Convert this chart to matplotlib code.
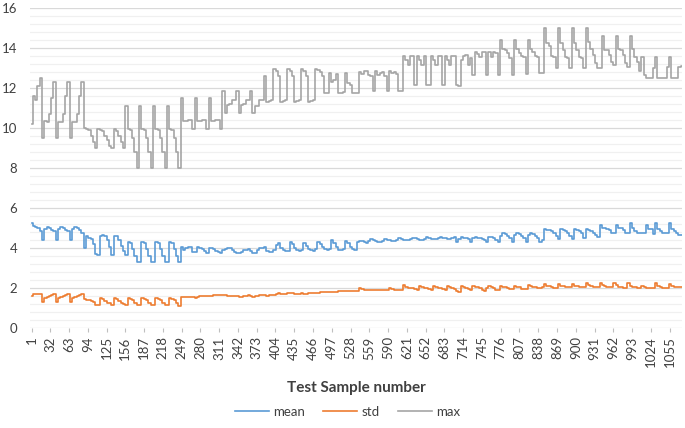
import numpy as np
import matplotlib
matplotlib.use("Agg")
import matplotlib.pyplot as plt
from matplotlib.ticker import MultipleLocator

plt.rcParams['font.family'] = ['Lato', 'DejaVu Sans']

n_samples = 1075
tick_labels = [1, 32, 63, 94, 125, 156, 187, 218, 249, 280, 311, 342, 373, 404, 435, 466, 497,
               528, 559, 590, 621, 652, 683, 714, 745, 776, 807, 838, 869, 900, 931, 962, 993,
               1024, 1055]

# readings taken at evenly spaced test samples across 1..1075
mean_vals = [
    5.23, 5.12, 5.05, 4.98, 4.85, 4.4,
    4.95, 5.03, 5.0, 4.92, 4.85, 4.4,
    4.95, 5.03, 5.0, 4.92, 4.85, 4.4,
    4.95, 5.03, 5.0, 4.9, 4.75, 4.0,
    4.6, 4.5, 4.45, 4.2, 3.7, 3.65,
    4.6, 4.65, 4.6, 4.4, 4.05, 3.65,
    4.6, 4.6, 4.4, 4.1, 3.85, 3.65,
    4.32, 4.25, 3.95, 3.6, 3.32, 3.32,
    4.32, 4.25, 3.95, 3.6, 3.32, 3.32,
    4.32, 4.25, 3.95, 3.6, 3.32, 3.32,
    4.32, 4.25, 3.95, 3.6, 3.32, 4.07,
    3.9, 4.0, 4.07, 4.05, 3.82, 3.82,
    4.07, 4.0, 3.95, 3.85, 3.75, 4.02,
    4.0, 3.95, 3.85, 3.8, 3.75, 3.9,
    3.95, 3.98, 3.98, 3.9, 3.82, 3.75,
    3.73, 3.8, 3.9, 3.9, 3.95, 3.85,
    3.73, 3.73, 3.9, 3.98, 4.0, 4.07,
    3.85, 3.82, 3.82, 3.88, 4.15, 4.23,
    4.0, 3.9, 3.85, 3.85, 4.32, 4.2,
    4.0, 3.9, 3.85, 3.9, 4.23, 4.1,
    3.95, 3.88, 3.87, 3.95, 4.3, 4.2,
    4.05, 3.95, 3.9, 3.95, 4.4, 4.25,
    4.05, 3.92, 3.9, 3.95, 4.37, 4.25,
    4.05, 3.95, 3.92, 4.3, 4.35, 4.35,
    4.3, 4.27, 4.35, 4.43, 4.42, 4.35,
    4.32, 4.3, 4.35, 4.45, 4.42, 4.38,
    4.35, 4.35, 4.4, 4.5, 4.45, 4.42,
    4.4, 4.4, 4.45, 4.52, 4.48, 4.45,
    4.42, 4.42, 4.45, 4.55, 4.5, 4.47,
    4.45, 4.45, 4.5, 4.57, 4.52, 4.5,
    4.47, 4.47, 4.52, 4.57, 4.32, 4.45,
    4.53, 4.5, 4.48, 4.45, 4.3, 4.5,
    4.53, 4.5, 4.48, 4.45, 4.4, 4.28,
    4.57, 4.55, 4.5, 4.4, 4.28, 4.6,
    4.73, 4.7, 4.6, 4.5, 4.32, 4.65,
    4.73, 4.7, 4.6, 4.5, 4.32, 4.65,
    4.73, 4.7, 4.6, 4.5, 4.32, 4.4,
    4.93, 4.9, 4.88, 4.85, 4.73, 4.6,
    4.45, 4.93, 4.9, 4.85, 4.75, 4.6,
    4.45, 4.93, 4.9, 4.85, 4.75, 4.5,
    4.93, 4.9, 4.85, 4.75, 4.65, 4.57,
    5.15, 5.0, 4.98, 4.95, 4.9, 4.73,
    4.73, 5.15, 5.0, 4.98, 4.9, 4.75,
    4.73, 5.23, 5.0, 4.85, 4.75, 4.73,
    4.73, 4.73, 5.15, 4.95, 4.95, 4.7,
    5.23, 4.95, 4.85, 4.73, 4.73, 4.73,
    5.23, 4.95, 4.85, 4.75, 4.65, 4.65,
]

std_vals = [
    1.6, 1.68, 1.7, 1.7, 1.7, 1.32,
    1.48, 1.57, 1.6, 1.65, 1.68, 1.32,
    1.48, 1.57, 1.6, 1.65, 1.68, 1.32,
    1.48, 1.57, 1.62, 1.65, 1.68, 1.45,
    1.4, 1.38, 1.35, 1.3, 1.15, 1.15,
    1.48, 1.45, 1.35, 1.25, 1.23, 1.15,
    1.48, 1.45, 1.35, 1.25, 1.2, 1.15,
    1.48, 1.45, 1.38, 1.27, 1.15, 1.15,
    1.48, 1.45, 1.38, 1.27, 1.15, 1.15,
    1.48, 1.45, 1.38, 1.27, 1.15, 1.15,
    1.48, 1.45, 1.38, 1.27, 1.1, 1.57,
    1.55, 1.57, 1.57, 1.57, 1.55, 1.52,
    1.57, 1.6, 1.6, 1.6, 1.58, 1.6,
    1.62, 1.63, 1.65, 1.65, 1.63, 1.65,
    1.63, 1.62, 1.6, 1.6, 1.62, 1.6,
    1.57, 1.57, 1.6, 1.62, 1.65, 1.6,
    1.53, 1.6, 1.62, 1.65, 1.65, 1.65,
    1.6, 1.65, 1.67, 1.67, 1.7, 1.73,
    1.72, 1.68, 1.72, 1.73, 1.75, 1.73,
    1.72, 1.7, 1.72, 1.73, 1.68, 1.72,
    1.77, 1.77, 1.77, 1.75, 1.77, 1.78,
    1.8, 1.8, 1.82, 1.82, 1.82, 1.8,
    1.82, 1.85, 1.87, 1.87, 1.87, 1.85,
    1.87, 1.87, 1.87, 1.85, 1.98, 1.95,
    1.92, 1.9, 1.9, 1.9, 1.88, 1.9,
    1.9, 1.9, 1.9, 1.88, 1.9, 1.98,
    1.95, 1.92, 1.9, 1.9, 1.9, 2.15,
    2.05, 2.02, 2.0, 2.0, 1.95, 1.9,
    2.1, 2.03, 2.0, 2.0, 1.95, 1.9,
    2.1, 2.03, 2.0, 2.0, 1.95, 1.9,
    2.1, 2.03, 2.0, 1.97, 1.85, 1.82,
    2.1, 2.05, 2.0, 1.95, 1.9, 2.1,
    2.07, 2.03, 2.0, 1.9, 1.87, 2.0,
    2.1, 2.05, 2.0, 1.92, 1.9, 2.1,
    2.07, 2.03, 2.0, 1.95, 1.93, 2.1,
    2.07, 2.03, 1.97, 1.93, 1.93, 2.15,
    2.1, 2.07, 2.03, 2.0, 2.0, 2.05,
    2.18, 2.12, 2.08, 2.03, 2.02, 2.02,
    2.2, 2.12, 2.08, 2.03, 2.03, 2.05,
    2.2, 2.12, 2.08, 2.05, 2.03, 2.03,
    2.23, 2.15, 2.1, 2.05, 2.03, 2.03,
    2.23, 2.15, 2.1, 2.05, 2.03, 2.03,
    2.23, 2.15, 2.07, 2.03, 2.0, 2.0,
    2.23, 2.12, 2.07, 2.03, 2.0, 2.0,
    2.1, 2.03, 2.0, 2.0, 2.0, 2.0,
    2.23, 2.12, 2.07, 2.0, 2.0, 2.0,
    2.2, 2.1, 2.07, 2.03, 2.03, 2.03,
]

max_vals = [
    10.2, 11.6, 11.4, 12.1, 12.5, 9.5,
    10.35, 10.3, 10.7, 11.5, 12.3, 9.5,
    10.3, 10.3, 10.7, 11.6, 12.3, 9.5,
    10.3, 10.3, 10.7, 11.6, 12.3, 10.0,
    9.95, 9.9, 9.6, 9.3, 9.0, 9.95,
    9.9, 9.85, 9.6, 9.4, 9.1, 9.0,
    9.95, 9.85, 9.6, 9.3, 9.0, 11.1,
    9.95, 9.9, 9.5, 8.8, 8.0, 11.1,
    9.95, 9.9, 9.5, 8.8, 8.0, 11.1,
    9.95, 9.9, 9.5, 8.8, 8.0, 11.1,
    9.95, 9.9, 9.5, 8.8, 8.0, 11.5,
    10.35, 10.35, 10.4, 10.4, 9.95, 11.5,
    10.35, 10.35, 10.4, 10.4, 9.95, 11.5,
    10.35, 10.35, 10.4, 10.4, 9.95, 11.85,
    10.75, 11.15, 11.2, 11.4, 11.4, 11.85,
    10.75, 11.15, 11.2, 11.4, 11.4, 11.85,
    10.75, 11.1, 11.1, 11.4, 11.4, 12.6,
    11.3, 11.35, 11.4, 12.95, 12.85, 12.6,
    11.3, 11.35, 11.4, 12.95, 12.85, 12.6,
    11.3, 11.35, 11.4, 12.95, 12.85, 12.6,
    11.3, 11.35, 11.4, 12.95, 12.9, 12.8,
    12.6, 11.75, 11.75, 12.75, 12.3, 12.4,
    12.7, 11.75, 11.75, 11.8, 12.75, 12.25,
    12.15, 11.75, 11.75, 11.75, 12.8, 12.7,
    12.85, 12.85, 12.65, 12.6, 11.85, 12.85,
    12.65, 12.75, 12.8, 12.6, 11.85, 12.85,
    12.75, 12.8, 12.7, 11.85, 11.85, 13.6,
    13.4, 13.15, 13.6, 13.6, 12.15, 13.6,
    13.4, 13.15, 13.6, 12.15, 12.15, 13.6,
    13.4, 13.15, 13.6, 13.6, 12.15, 13.6,
    13.4, 13.15, 13.6, 13.6, 12.15, 12.1,
    13.4, 13.6, 13.65, 13.15, 13.5, 12.65,
    13.8, 13.7, 13.55, 13.8, 13.8, 12.65,
    13.8, 13.55, 13.8, 13.75, 12.65, 14.4,
    13.95, 13.9, 13.75, 13.5, 12.65, 14.4,
    13.95, 13.75, 13.6, 13.55, 12.7, 14.4,
    13.95, 13.8, 13.6, 13.55, 12.75, 12.75,
    15.0, 14.25, 14.1, 13.6, 13.55, 13.0,
    15.0, 14.25, 13.9, 13.55, 13.5, 13.0,
    15.0, 14.25, 13.9, 13.55, 13.5, 13.0,
    15.0, 14.3, 13.95, 13.65, 13.25, 13.0,
    13.0, 14.6, 13.9, 13.9, 13.65, 13.3,
    13.15, 14.6, 13.95, 13.9, 13.65, 13.25,
    13.07, 14.6, 13.95, 13.55, 13.3, 12.85,
    13.57, 12.65, 12.48, 12.48, 12.48, 13.0,
    13.57, 12.48, 12.48, 12.48, 12.5, 13.05,
    13.57, 12.48, 12.48, 12.5, 13.07, 13.1,
]

series = [("mean", mean_vals, "#5B9BD5"),
          ("std", std_vals, "#ED7D31"),
          ("max", max_vals, "#A5A5A5")]

fig = plt.figure(figsize=(6.85, 4.28), dpi=100)
ax = fig.add_axes([30 / 685, 100 / 428, 652 / 685, 320 / 428])

for name, vals, color in series:
    x = np.linspace(1, n_samples, len(vals))
    ax.plot(x, vals, color=color, lw=1.2, drawstyle="steps-mid", label=name)

ax.set_xlim(-1.5, n_samples + 0.5)
ax.set_ylim(0, 16)
ax.yaxis.set_major_locator(MultipleLocator(2))
ax.yaxis.set_minor_locator(MultipleLocator(0.4))
ax.grid(True, which="major", axis="y", color="#D9D9D9", lw=0.9)
ax.grid(True, which="minor", axis="y", color="#F0F0F0", lw=0.9)
ax.set_axisbelow(True)
for s in ax.spines.values():
    s.set_visible(False)

ax.set_xticks(tick_labels)
ax.set_xticklabels([str(t) for t in tick_labels], rotation=90, fontsize=9.5, color="#404040")
ax.tick_params(axis="x", length=3, color="#BFBFBF", pad=3)
ax.tick_params(axis="y", which="both", length=0, pad=9, labelsize=9.5, labelcolor="#404040")

ax.set_xlabel("Test Sample number", fontsize=11, fontweight="bold", color="#404040", labelpad=10)

ax.legend(loc="center", bbox_to_anchor=(347.5 / 685, 16 / 428), bbox_transform=fig.transFigure,
          ncol=3, frameon=False, fontsize=9.5, handlelength=2.6, handletextpad=0.3,
          columnspacing=1.4, labelcolor="#404040")

fig.savefig("out.png", dpi=100)
